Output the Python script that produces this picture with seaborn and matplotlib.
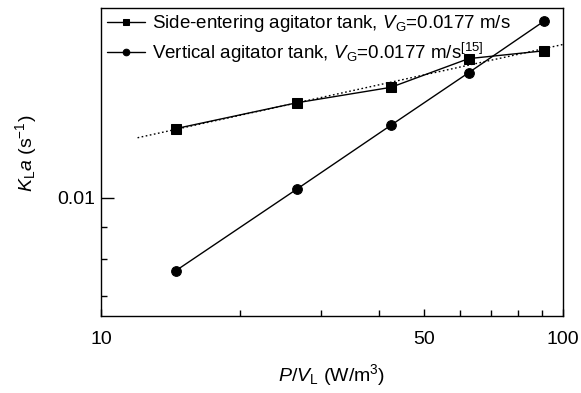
import numpy as np
import pandas as pd
import matplotlib
matplotlib.use("Agg")
import matplotlib.pyplot as plt
import seaborn as sns

# Power per unit volume (W/m^3)
power_side = [14.5, 26.5, 42.4, 62.5, 91.1]
power_vert = [14.5, 26.5, 42.4, 62.5, 91.1]
# Volumetric mass-transfer coefficient KLa (1/s)
kla_side = [0.01286, 0.01413, 0.01495, 0.0166, 0.01708]
kla_vert = [0.00766, 0.01031, 0.01302, 0.01577, 0.01904]

label_side = r"Side-entering agitator tank, $V$$_\mathregular{G}$=0.0177 m/s"
label_vert = r"Vertical agitator tank, $V$$_\mathregular{G}$=0.0177 m/s$^\mathregular{[15]}$"

sns.set_theme(style="ticks")
plt.rcParams["font.family"] = ["Liberation Sans", "DejaVu Sans"]
plt.rcParams["mathtext.fontset"] = "custom"
plt.rcParams["mathtext.rm"] = "Liberation Sans"
plt.rcParams["mathtext.it"] = "Liberation Sans:italic"
plt.rcParams["axes.edgecolor"] = "black"
plt.rcParams["axes.linewidth"] = 1.0

fig = plt.figure(figsize=(5.81, 3.93), dpi=100)
ax = fig.add_axes([0.1738, 0.196, 0.7952, 0.7836])

df_side = pd.DataFrame({"P": power_side, "kla": kla_side})
df_vert = pd.DataFrame({"P": power_vert, "kla": kla_vert})

# Power-law fit to the side-entering data, shown as a dotted trend line
slope, intercept = np.polyfit(np.log10(power_side), np.log10(kla_side), 1)
fit_x = np.array([12.0, 100.0])
fit_y = 10 ** (intercept + slope * np.log10(fit_x))
ax.plot(fit_x, fit_y, color="black", linestyle=(0, (1.2, 1.8)), linewidth=1.0, zorder=1)

sns.lineplot(data=df_side, x="P", y="kla", ax=ax, color="black", marker="s",
             markersize=6.5, linewidth=1.0, markeredgecolor="black",
             label=label_side, zorder=3)
sns.lineplot(data=df_vert, x="P", y="kla", ax=ax, color="black", marker="o",
             markersize=7, linewidth=1.0, markeredgecolor="black",
             label=label_vert, zorder=3)

ax.set_xscale("log")
ax.set_yscale("log")
ax.set_xlim(10, 100)
ax.set_ylim(0.0065, 0.01996)

ax.xaxis.set_major_locator(matplotlib.ticker.FixedLocator([10, 50, 100]))
ax.xaxis.set_major_formatter(matplotlib.ticker.FixedFormatter(["10", "50", "100"]))
ax.xaxis.set_minor_locator(matplotlib.ticker.FixedLocator([20, 30, 40, 60, 70, 80, 90]))
ax.xaxis.set_minor_formatter(matplotlib.ticker.NullFormatter())
ax.yaxis.set_major_locator(matplotlib.ticker.FixedLocator([0.01]))
ax.yaxis.set_major_formatter(matplotlib.ticker.FixedFormatter(["0.01"]))
ax.yaxis.set_minor_locator(matplotlib.ticker.FixedLocator([0.007, 0.008, 0.009]))
ax.yaxis.set_minor_formatter(matplotlib.ticker.NullFormatter())

ax.tick_params(axis="both", which="both", direction="in", colors="black",
               labelsize=14, width=1.0)
ax.tick_params(axis="x", which="major", length=5, pad=11)
ax.tick_params(axis="x", which="minor", length=4)
ax.tick_params(axis="y", which="major", length=9, pad=4)
ax.tick_params(axis="y", which="minor", length=4)

for side in ["top", "right", "bottom", "left"]:
    ax.spines[side].set_visible(True)
    ax.spines[side].set_color("black")

ax.set_xlabel(r"$P$/$V$$_\mathregular{L}$ (W/m$^\mathregular{3}$)", fontsize=14, color="black")
ax.set_ylabel(r"$K$$_\mathregular{L}$$a$ (s$^\mathregular{-1}$)", fontsize=14, color="black")
ax.xaxis.set_label_coords(0.5, -0.15)
ax.yaxis.set_label_coords(-0.135, 0.528)

leg = ax.legend(loc="upper left", bbox_to_anchor=(-0.011, 1.02), frameon=False,
                fontsize=13.5, handlelength=2.0, handletextpad=0.37,
                labelspacing=0.35, borderaxespad=0.2, markerscale=0.68)
for t in leg.get_texts():
    t.set_color("black")

fig.savefig("out.png", dpi=100)
